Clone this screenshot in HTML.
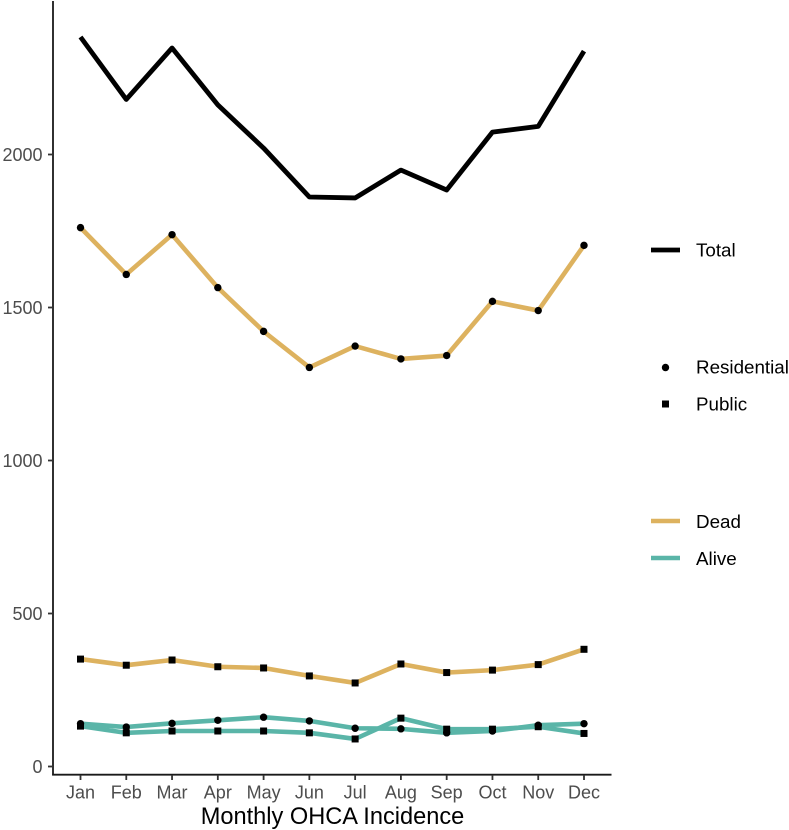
<!DOCTYPE html>
<html>
<head>
<meta charset="utf-8">
<style>
html,body{margin:0;padding:0;background:#fff;width:789px;height:830px;overflow:hidden}
svg{display:block;font-family:"Liberation Sans",sans-serif}
</style>
</head>
<body>
<svg id="chart" width="789" height="830" viewBox="0 0 789 830" xmlns="http://www.w3.org/2000/svg">
  <g id="series-layer"></g>
  <g id="axis-layer"></g>
  <text x="332.5" y="824" font-size="23.6" text-anchor="middle" fill="#000">Monthly OHCA Incidence</text>
  <g>
    <line x1="651" x2="680" y1="250" y2="250" stroke="#000" stroke-width="4.8"/>
    <text x="696" y="256.5" font-size="18.8" fill="#000">Total</text>
  </g>
  <g>
    <circle cx="665.5" cy="367.5" r="3.7" fill="#000"/>
    <text x="696" y="373.5" font-size="18.8" fill="#000">Residential</text>
    <rect x="662" y="400.5" width="7" height="7" fill="#000"/>
    <text x="696" y="410.5" font-size="18.8" fill="#000">Public</text>
  </g>
  <g>
    <line x1="651" x2="680" y1="521" y2="521" stroke="#DDB25F" stroke-width="4.6"/>
    <text x="696" y="528" font-size="18.8" fill="#000">Dead</text>
    <line x1="651" x2="680" y1="558" y2="558" stroke="#5AB5A8" stroke-width="4.6"/>
    <text x="696" y="565" font-size="18.8" fill="#000">Alive</text>
  </g>
</svg>
<script>
const months = ["Jan","Feb","Mar","Apr","May","Jun","Jul","Aug","Sep","Oct","Nov","Dec"];
const yTicks = [0,500,1000,1500,2000];
const total = [2384,2180,2348,2162,2021,1861,1858,1949,1884,2073,2092,2338];
const deadResidential = [1761,1608,1738,1565,1422,1304,1374,1332,1343,1520,1490,1703];
const deadPublic = [351,331,348,326,322,296,273,335,307,315,333,383];
const aliveResidential = [140,129,141,151,161,149,125,123,110,116,135,140];
const alivePublic = [132,110,116,116,116,110,90,158,122,122,130,108];

const NS = "http://www.w3.org/2000/svg";
const seriesLayer = document.getElementById("series-layer");
const axisLayer = document.getElementById("axis-layer");
const xScale = i => 80.5 + i * (584 - 80.5) / 11;
const yScale = v => 766.5 - v * (766.5 - 154.5) / 2000;

function make(tag, attrs, parent) {
  const el = document.createElementNS(NS, tag);
  for (const k in attrs) el.setAttribute(k, attrs[k]);
  parent.appendChild(el);
  return el;
}

function drawLine(values, color, width, name) {
  const pts = values.map((v, i) => xScale(i).toFixed(2) + "," + yScale(v).toFixed(2)).join(" ");
  const line = make("polyline", {points: pts, fill: "none", stroke: color, "stroke-width": width, "stroke-linejoin": "round", "stroke-linecap": "butt"}, seriesLayer);
  
  
}

function drawCircles(values, name) {
  values.forEach((v, i) => {
    const c = make("circle", {cx: xScale(i), cy: yScale(v), r: 3.7, fill: "#000"}, seriesLayer);
    
    
  });
}

function drawSquares(values, name) {
  values.forEach((v, i) => {
    const r = make("rect", {x: xScale(i) - 3.5, y: yScale(v) - 3.5, width: 7, height: 7, fill: "#000"}, seriesLayer);
    
    
  });
}

drawLine(total, "#000", 4.8, "line-total");
drawLine(deadResidential, "#DDB25F", 4.6, "line-dead-residential");
drawLine(deadPublic, "#DDB25F", 4.6, "line-dead-public");
drawLine(aliveResidential, "#5AB5A8", 4.6, "line-alive-residential");
drawLine(alivePublic, "#5AB5A8", 4.6, "line-alive-public");
drawCircles(deadResidential, "point-dead-residential");
drawSquares(deadPublic, "point-dead-public");
drawCircles(aliveResidential, "point-alive-residential");
drawSquares(alivePublic, "point-alive-public");

const yAxis = make("line", {x1: 53, x2: 53, y1: 1, y2: 775.5, stroke: "#1a1a1a", "stroke-width": 1.8}, axisLayer);


const xAxis = make("line", {x1: 52.2, x2: 611.5, y1: 774.7, y2: 774.7, stroke: "#1a1a1a", "stroke-width": 1.8}, axisLayer);



yTicks.forEach(v => {
  const t = make("line", {x1: 48, x2: 53, y1: yScale(v), y2: yScale(v), stroke: "#333", "stroke-width": 1.8}, axisLayer);
  
  
  const l = make("text", {x: 42.5, y: yScale(v) + 6.5, "font-size": 18, "text-anchor": "end", fill: "#4d4d4d"}, axisLayer);
  l.textContent = v;
  
  
});

months.forEach((m, i) => {
  const t = make("line", {x1: xScale(i), x2: xScale(i), y1: 775, y2: 780, stroke: "#333", "stroke-width": 1.8}, axisLayer);
  
  
  const l = make("text", {x: xScale(i), y: 798.5, "font-size": 18, "text-anchor": "middle", fill: "#4d4d4d"}, axisLayer);
  l.textContent = m;
  
  
});
</script>
</body>
</html>
